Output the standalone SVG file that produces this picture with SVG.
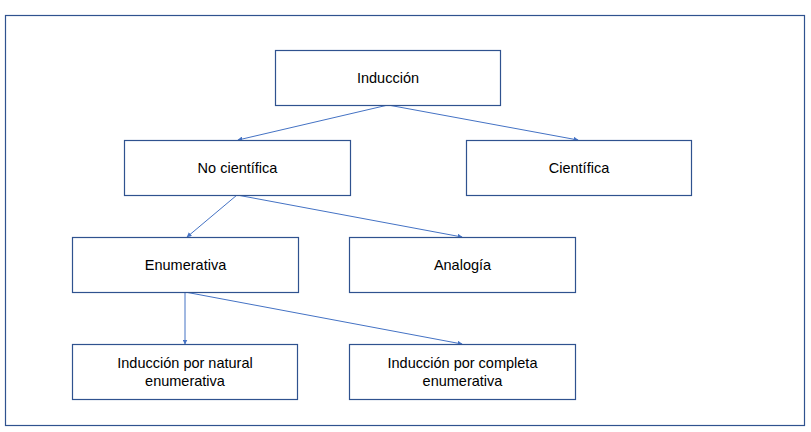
<svg xmlns="http://www.w3.org/2000/svg" width="811" height="432" viewBox="0 0 811 432">
<style>
.box{fill:#fff;stroke:#2F528F;stroke-width:1.2}
.t{font-family:"Liberation Sans",Arial,sans-serif;font-size:14.5px;fill:#000;text-anchor:middle}
.c{stroke:#4472C4;stroke-width:1;fill:none;marker-end:url(#ah)}
</style>
<defs>
<marker id="ah" viewBox="0 0 10 10" refX="9" refY="5" markerWidth="5" markerHeight="5" orient="auto" markerUnits="userSpaceOnUse">
<path d="M0,0 L10,5 L0,10 z" fill="#4472C4"/>
</marker>
</defs>
<rect x="0" y="0" width="811" height="432" fill="#fff"/>
<rect x="5.5" y="15.5" width="799" height="410" fill="none" stroke="#2F528F" stroke-width="1.2"/>
<g id="connectors">
<line class="c" x1="388" y1="105" x2="238" y2="140"/>
<line class="c" x1="388" y1="105" x2="578" y2="140"/>
<line class="c" x1="237" y1="195" x2="187" y2="237"/>
<line class="c" x1="237" y1="195" x2="462" y2="237"/>
<line class="c" x1="185" y1="292" x2="185" y2="344"/>
<line class="c" x1="185" y1="292" x2="462" y2="344"/>
</g>
<g id="n-induccion"><rect class="box" x="275.5" y="50.5" width="225" height="55"/><text class="t" x="388" y="82.5">Inducción</text></g>
<g id="n-nocientifica"><rect class="box" x="124.5" y="140.5" width="226" height="55"/><text class="t" x="237.5" y="173">No científica</text></g>
<g id="n-cientifica"><rect class="box" x="466.5" y="140.5" width="225" height="55"/><text class="t" x="579" y="173">Científica</text></g>
<g id="n-enumerativa"><rect class="box" x="72.5" y="237.5" width="226" height="55"/><text class="t" x="185.5" y="270">Enumerativa</text></g>
<g id="n-analogia"><rect class="box" x="349.5" y="237.5" width="226" height="55"/><text class="t" x="462.5" y="270">Analogía</text></g>
<g id="n-natural"><rect class="box" x="72.5" y="344.5" width="225" height="55"/><text class="t" x="185" y="368">Inducción por natural</text><text class="t" x="185" y="386">enumerativa</text></g>
<g id="n-completa"><rect class="box" x="349.5" y="344.5" width="226" height="55"/><text class="t" x="462.5" y="368">Inducción por completa</text><text class="t" x="462.5" y="386">enumerativa</text></g>
</svg>
